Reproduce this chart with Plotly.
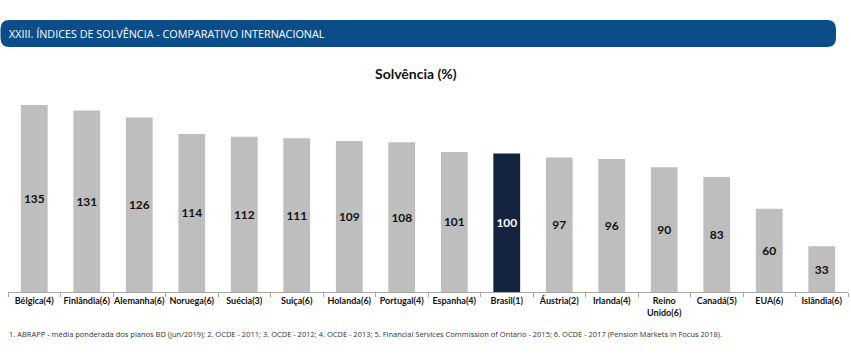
import plotly.graph_objects as go

categories = ["Bélgica(4)", "Finlândia(6)", "Alemanha(6)", "Noruega(6)", "Suécia(3)",
              "Suiça(6)", "Holanda(6)", "Portugal(4)", "Espanha(4)", "Brasil(1)",
              "Áustria(2)", "Irlanda(4)", "Reino<br>Unido(6)", "Canadá(5)", "EUA(6)", "Islândia(6)"]
values = [135, 131, 126, 114, 112, 111, 109, 108, 101, 100, 97, 96, 90, 83, 60, 33]
highlight = "Brasil(1)"

title_text = "Solvência (%)"
header_text = "XXIII. ÍNDICES DE SOLVÊNCIA - COMPARATIVO INTERNACIONAL"
footnote = ("1. ABRAPP - média ponderada dos planos BD (jun/2019); 2. OCDE - 2011; 3. OCDE - 2012; "
            "4. OCDE - 2013; 5. Financial Services Commission of Ontario - 2015; 6. OCDE - 2017 "
            "(Pension Markets in Focus 2018).")

W, H = 851, 356
ML, MR, MT, MB = 8, 3, 98, 64
PW = W - ML - MR
PH = H - MT - MB

def px_x(p):
    return (p - ML) / PW

def px_y(p):
    return (H - MB - p) / PH

colors = ["#14233f" if c == highlight else "#bfbebf" for c in categories]
txtcolors = ["#ffffff" if c == highlight else "#111111" for c in categories]

fig = go.Figure(go.Bar(
    x=categories, y=values,
    marker=dict(color=colors, line=dict(width=0)),
    text=[str(v) for v in values],
    textposition="inside", insidetextanchor="middle",
    textfont=dict(family="Lato", size=12, color=txtcolors, weight="bold"),
    textangle=0,
))

# banner path (rounded rectangle) in paper coords
x0, x1, y0, y1, r = 0.5, 836, 20, 47, 9
rx = r / PW
ry = r / PH
X0, X1, Y0, Y1 = px_x(x0), px_x(x1), px_y(y0), px_y(y1)
path = (f"M {X0+rx} {Y0} L {X1-rx} {Y0} Q {X1} {Y0} {X1} {Y0-ry} L {X1} {Y1+ry} "
        f"Q {X1} {Y1} {X1-rx} {Y1} L {X0+rx} {Y1} Q {X0} {Y1} {X0} {Y1+ry} "
        f"L {X0} {Y0-ry} Q {X0} {Y0} {X0+rx} {Y0} Z")

fig.update_layout(
    width=W, height=H,
    margin=dict(l=ML, r=MR, t=MT, b=MB, pad=0),
    paper_bgcolor="white", plot_bgcolor="white",
    bargap=0.49, showlegend=False,
    xaxis=dict(type="category", showline=True, linecolor="#a6a6a6", linewidth=1,
               ticks="outside", tickson="boundaries", ticklen=4, tickcolor="#a6a6a6",
               tickangle=0,
               tickfont=dict(family="Lato", size=9, color="#111111", weight="bold"),
               showgrid=False, fixedrange=True),
    yaxis=dict(range=[0, 140], visible=False, showgrid=False, fixedrange=True),
    shapes=[dict(type="path", path=path, xref="paper", yref="paper",
                 fillcolor="#0b4d89", line=dict(width=0), layer="above")],
    annotations=[
        dict(text=header_text, xref="paper", yref="paper", x=px_x(7), y=px_y(33.5),
             xanchor="left", yanchor="middle", showarrow=False,
             font=dict(family="Open Sans", size=10.8, color="white")),
        dict(text=f"<b>{title_text}</b>", xref="paper", yref="paper", x=px_x(416), y=px_y(73),
             xanchor="center", yanchor="middle", showarrow=False,
             font=dict(family="Lato", size=14, color="#111111")),
        dict(text=footnote, xref="paper", yref="paper", x=px_x(7), y=px_y(334),
             xanchor="left", yanchor="middle", showarrow=False,
             font=dict(family="Open Sans", size=7.5, color="#333333")),
    ],
)

fig.write_html("out.html", config={"displayModeBar": False},
               post_script="document.body.style.margin='0';")
